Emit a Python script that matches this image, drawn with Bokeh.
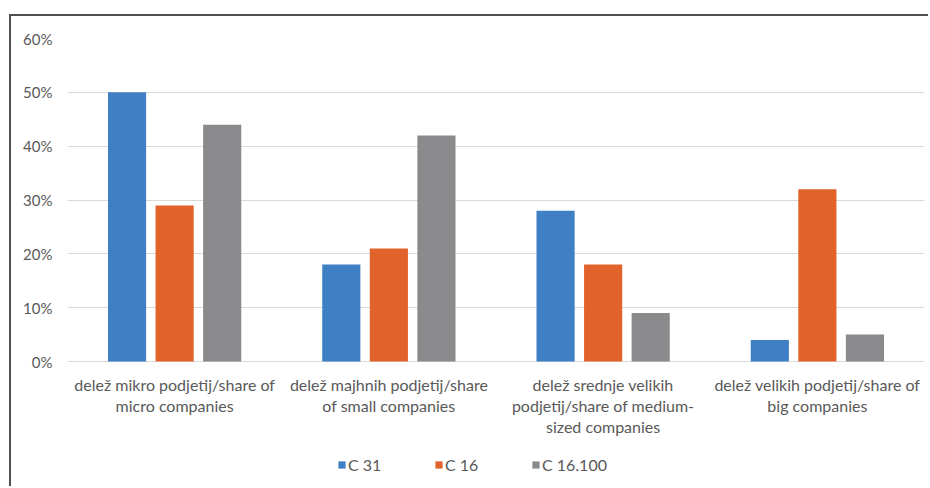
from bokeh.plotting import figure
from bokeh.models import (ColumnDataSource, FixedTicker, NumeralTickFormatter, Range1d,
                          Legend, LegendItem)
from bokeh.core.properties import value
from bokeh.embed import file_html
from bokeh.resources import INLINE

categories = [
    "delež mikro podjetij/share of\nmicro companies",
    "delež majhnih podjetij/share\nof small companies",
    "delež srednje velikih\npodjetij/share of medium-\nsized companies",
    "delež velikih podjetij/share of\nbig companies",
]
series_names = ["C 31", "C 16", "C 16.100"]
c31 = [0.50, 0.18, 0.28, 0.04]
c16 = [0.29, 0.21, 0.18, 0.32]
c16100 = [0.44, 0.42, 0.09, 0.05]
y_ticks = [0, 0.1, 0.2, 0.3, 0.4, 0.5, 0.6]

colors = ["#3f7fc4", "#e2622b", "#8a8a8c"]
offsets = [-0.222, 0.0, 0.222]
bar_w = 0.178
FONT = "Lato"
TEXT = "#595959"

# frame spans from the 60% line down to the bottom of the page;
# the range is extended below zero to hold category labels and legend
p = figure(width=919, height=472, output_backend="svg", toolbar_location=None,
           x_range=Range1d(0, 4), y_range=Range1d(-0.6 * 127 / 323, 0.6),
           min_border_left=56, min_border_right=6, min_border_top=22, min_border_bottom=0)
p.styles = {"margin-left": "9px", "margin-top": "14px",
            "border-left": "2px solid #505050", "border-top": "2px solid #505050"}
p.outline_line_color = None
p.background_fill_color = "white"
p.xaxis.visible = False
p.xgrid.grid_line_color = None

centers = [i + 0.5 for i in range(len(categories))]
renderers = []
for vals, off, col in zip([c31, c16, c16100], offsets, colors):
    src = ColumnDataSource(dict(x=[c + off for c in centers], top=vals))
    r = p.vbar(x="x", top="top", width=bar_w, bottom=0, source=src,
               fill_color=col, line_color=None)
    renderers.append(r)

lab_src = ColumnDataSource(dict(x=centers, y=[0] * len(centers), text=categories))
p.text(x="x", y="y", text="text", source=lab_src, y_offset=13,
       text_align="center", text_baseline="top", text_line_height=1.12,
       text_font=value(FONT), text_font_size="16px", text_color=TEXT)

p.yaxis.ticker = FixedTicker(ticks=y_ticks)
p.yaxis.formatter = NumeralTickFormatter(format="0%")
p.yaxis.axis_line_color = None
p.yaxis.major_tick_line_color = None
p.yaxis.minor_tick_line_color = None
p.yaxis.major_label_text_font = FONT
p.yaxis.major_label_text_font_size = "15px"
p.yaxis.major_label_text_color = TEXT
p.yaxis.major_label_standoff = 9
p.ygrid.grid_line_color = "#d9d9d9"
p.ygrid.grid_line_width = 1

legend = Legend(items=[LegendItem(label=n, renderers=[r]) for n, r in zip(series_names, renderers)],
                orientation="horizontal", location=(270, 14),
                glyph_width=9, glyph_height=9, spacing=0, label_standoff=2, label_width=86,
                label_text_font=FONT, label_text_font_size="16px", label_text_color=TEXT,
                border_line_color=None, background_fill_alpha=0, padding=0, margin=0)
p.add_layout(legend)

open("out.html", "w").write(file_html(p, INLINE))
